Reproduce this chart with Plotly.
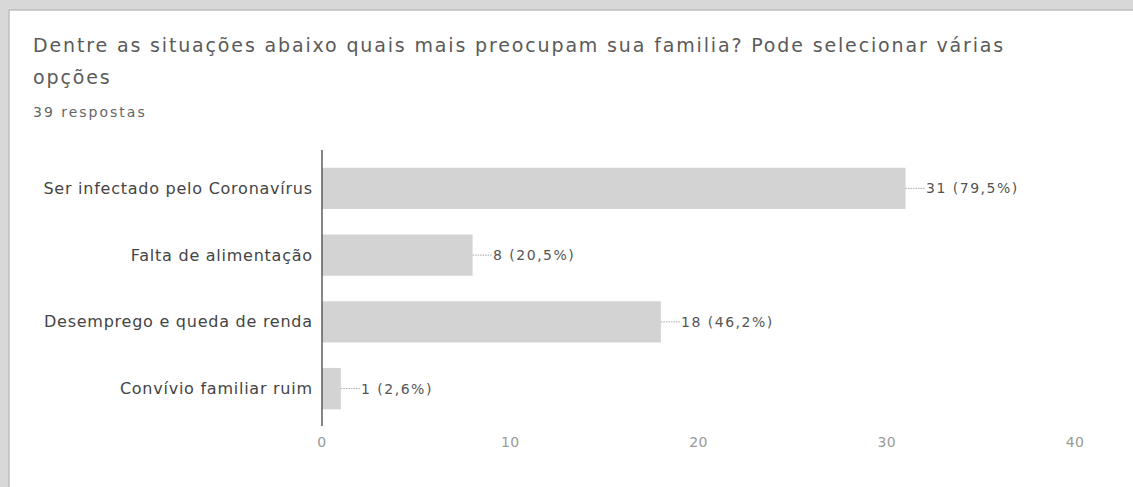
import plotly.graph_objects as go

categories = ["Ser infectado pelo Coronavírus", "Falta de alimentação",
              "Desemprego e queda de renda", "Convívio familiar ruim"]
counts = [31, 8, 18, 1]
pct_labels = ["79,5%", "20,5%", "46,2%", "2,6%"]
x_ticks = [0, 10, 20, 30, 40]
title_line1 = "Dentre as situações abaixo quais mais preocupam sua familia? Pode selecionar várias"
title_line2 = "opções"
subtitle = "39 respostas"

W, H = 1133, 487
ML, MR, MT, MB = 322, 58, 155, 65
PW, PH = W - ML - MR, H - MT - MB

def px(x):
    return (x - ML) / PW

def py(y):
    return (H - MB - y) / PH

fig = go.Figure()
fig.add_trace(go.Bar(
    y=categories, x=counts, orientation="h",
    marker=dict(color="#d3d3d3", line=dict(width=0)),
    width=0.62, hoverinfo="skip",
))

annotations = []
for c, v, p in zip(categories, counts, pct_labels):
    annotations.append(dict(
        x=v, y=c, xref="x", yref="y",
        text=f"{v} ({p})", showarrow=True, arrowhead=0, arrowwidth=1,
        arrowcolor="#a8a8a8", ax=19, ay=0, xanchor="left", yanchor="middle",
        width=130, align="left", borderpad=0,
        font=dict(family="DejaVu Sans", size=14, color="#555555"),
        standoff=0, startstandoff=0,
    ))

annotations += [
    dict(x=px(32), y=py(45), xref="paper", yref="paper", text=title_line1,
         showarrow=False, xanchor="left", yanchor="middle", width=1080, align="left",
         borderpad=0,
         font=dict(family="DejaVu Sans", size=19, color="#5a5a5a")),
    dict(x=px(32), y=py(77), xref="paper", yref="paper", text=title_line2,
         showarrow=False, xanchor="left", yanchor="middle", width=300, align="left",
         borderpad=0,
         font=dict(family="DejaVu Sans", size=19, color="#5a5a5a")),
    dict(x=px(32), y=py(112), xref="paper", yref="paper", text=subtitle,
         showarrow=False, xanchor="left", yanchor="middle", width=300, align="left",
         borderpad=0,
         font=dict(family="DejaVu Sans", size=14, color="#666666")),
]

shapes = [
    dict(type="rect", xref="paper", yref="paper", layer="below",
         x0=px(9), x1=px(W + 20), y0=py(H + 20), y1=py(10),
         fillcolor="white", line=dict(color="#bdbdbd", width=1.5)),
    dict(type="line", xref="paper", yref="paper",
         x0=0, x1=0, y0=py(426), y1=py(150),
         line=dict(color="#444444", width=1.3)),
]

fig.update_layout(
    width=W, height=H,
    margin=dict(l=ML, r=MR, t=MT, b=MB, pad=0),
    paper_bgcolor="#d8d8d8", plot_bgcolor="rgba(0,0,0,0)",
    showlegend=False,
    xaxis=dict(range=[0, 40], tickvals=x_ticks, showgrid=False, zeroline=False,
               showline=False, ticks="outside", ticklen=7, tickcolor="rgba(0,0,0,0)",
               tickfont=dict(family="DejaVu Sans", size=14, color="#999999"),
               fixedrange=True),
    yaxis=dict(categoryorder="array", categoryarray=categories[::-1],
               showgrid=False, zeroline=False, showline=False,
               ticks="outside", ticklen=5, tickcolor="rgba(0,0,0,0)",
               tickfont=dict(family="DejaVu Sans", size=16, color="#444444"),
               fixedrange=True),
    annotations=annotations, shapes=shapes,
    bargap=0.32,
)

post = """
document.body.style.margin = '0';
var ann = document.querySelectorAll('.annotation-text');
ann.forEach(function(e, i){
  if (i < 4) { e.style.letterSpacing = '1.5px'; }
  else if (i < 6) { e.style.letterSpacing = '1.85px'; }
  else { e.style.letterSpacing = '2px'; }
});
document.querySelectorAll('.annotation-arrow-g path').forEach(function(e){
  e.style.strokeDasharray = '1.5,1';
});
document.querySelectorAll('.ytick text').forEach(function(e){ e.style.letterSpacing = '0.75px'; });
document.querySelectorAll('.xtick text').forEach(function(e){ e.style.letterSpacing = '0.4px'; });
"""

fig.write_html("out.html", post_script=post, config={"displayModeBar": False})
